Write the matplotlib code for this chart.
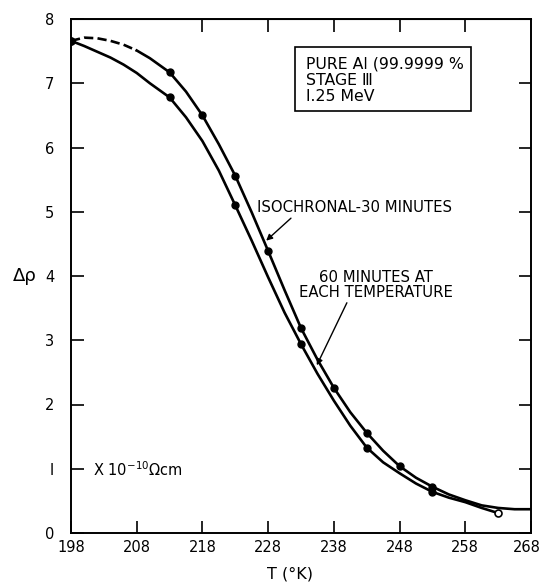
import matplotlib
matplotlib.use("Agg")
import matplotlib.pyplot as plt
from matplotlib.patches import Rectangle
from matplotlib.transforms import ScaledTranslation

# ---- data ----
# Isochronal 30 minutes (upper curve) - measured points
iso_T = [198, 213, 218, 223, 228, 233, 238, 243, 248, 253]
iso_rho = [7.66, 7.17, 6.50, 5.56, 4.39, 3.19, 2.26, 1.56, 1.04, 0.72]
# traced line of upper curve (dashed part, then solid)
iso_dash_T = [198, 200, 202, 204, 206, 208]
iso_dash_rho = [7.66, 7.71, 7.70, 7.66, 7.60, 7.51]
iso_line_T = [208, 210, 213, 215.5, 218, 220.5, 223, 225.5, 228, 230.5, 233, 235.5,
              238, 240.5, 243, 245.5, 248, 250.5, 253, 255.5, 258, 260.5, 263, 265.5, 268]
iso_line_rho = [7.51, 7.39, 7.17, 6.87, 6.50, 6.05, 5.56, 4.99, 4.39, 3.78, 3.19, 2.70,
                2.26, 1.88, 1.56, 1.28, 1.04, 0.86, 0.72, 0.60, 0.51, 0.43, 0.39, 0.37, 0.37]

# 60 minutes at each temperature (lower curve) - measured points
iso60_T = [198, 213, 223, 233, 243, 253]
iso60_rho = [7.66, 6.78, 5.10, 2.94, 1.33, 0.64]
end_T = [263]
end_rho = [0.31]
low_line_T = [198, 200, 202, 204, 206, 208, 210, 213, 215.5, 218, 220.5, 223, 225.5, 228,
              230.5, 233, 235.5, 238, 240.5, 243, 245.5, 248, 250.5, 253, 255.5, 258, 260.5, 263]
low_line_rho = [7.66, 7.58, 7.49, 7.40, 7.29, 7.16, 7.00, 6.78, 6.47, 6.10, 5.64, 5.10, 4.55,
                3.98, 3.43, 2.94, 2.48, 2.06, 1.67, 1.33, 1.10, 0.93, 0.77, 0.64, 0.55, 0.48, 0.39, 0.31]

x_ticks = [198, 208, 218, 228, 238, 248, 258, 268]
top_ticks = [218, 228, 238, 248, 258]
y_ticks = [0, 1, 2, 3, 4, 5, 6, 7, 8]
y_tick_labels = ["0", "I", "2", "3", "4", "5", "6", "7", "8"]

# ---- figure ----
fig = plt.figure(figsize=(5.41, 5.82), dpi=100)
ax = fig.add_axes([71/541, 49/582, 460/541, 514/582])
ax.set_xlim(198, 268)
ax.set_ylim(0, 8)

lw = 1.9
ax.plot(iso_dash_T, iso_dash_rho, color="black", lw=lw, ls=(0, (3.5, 1.6)))
ax.plot(iso_line_T, iso_line_rho, color="black", lw=lw, solid_joinstyle="round")
ax.plot(low_line_T, low_line_rho, color="black", lw=lw, solid_joinstyle="round")
ax.plot(iso_T, iso_rho, ls="none", marker="o", ms=5, color="black")
ax.plot(iso60_T, iso60_rho, ls="none", marker="o", ms=5, color="black")
ax.plot(end_T, end_rho, ls="none", marker="o", ms=5, mfc="white", mec="black", mew=1.2)

for s in ax.spines.values():
    s.set_linewidth(1.4)

ax.set_xticks(x_ticks)
ax.set_xticklabels([str(t) for t in x_ticks])
ax.set_yticks(y_ticks)
ax.set_yticklabels(y_tick_labels)
ax.tick_params(direction="in", length=9, width=1.2, labelsize=10.5, right=True, pad=5)
ax.tick_params(axis="y", pad=12)
last = ax.get_xticklabels()[-1]
last.set_transform(last.get_transform() + ScaledTranslation(-4/100, 0, fig.dpi_scale_trans))

top = ax.secondary_xaxis("top")
top.set_xticks(top_ticks)
top.tick_params(direction="in", length=9, width=1.2, labeltop=False)

ax.set_xlabel("T (°K)", fontsize=11.5, labelpad=8)
ax.xaxis.set_label_coords(0.476, -0.065)
ax.text(-0.10, 0.50, "Δρ", transform=ax.transAxes, fontsize=13, ha="center", va="center")

ax.text(0.047, 0.124, "X 10$^{-10}$Ωcm", transform=ax.transAxes, fontsize=10.5,
        ha="left", va="center")

ax.add_patch(Rectangle((0.487, 0.821), 0.383, 0.125, transform=ax.transAxes,
                       fc="white", ec="black", lw=1.2, zorder=3))
box_txt = "PURE Al (99.9999 %\nSTAGE Ⅲ\nI.25 MeV"
ax.text(0.511, 0.881, box_txt, transform=ax.transAxes, fontsize=11.3, ha="left",
        va="center", linespacing=1.1, zorder=4)

ax.annotate("ISOCHRONAL-30 MINUTES", xy=(227.7, 4.55), xytext=(226.3, 5.06),
            fontsize=10.7, ha="left", va="center",
            arrowprops=dict(arrowstyle="-|>", color="black", lw=1.0,
                            shrinkA=0, shrinkB=0, mutation_scale=9,
                            relpos=(0.19, 0.0)))
ax.annotate("60 MINUTES AT\nEACH TEMPERATURE", xy=(235.4, 2.61), xytext=(244.4, 3.86),
            fontsize=10.7, ha="center", va="center", linespacing=1.0, multialignment="center",
            arrowprops=dict(arrowstyle="-|>", color="black", lw=1.0,
                            shrinkA=0, shrinkB=0, mutation_scale=9,
                            relpos=(0.32, 0.0)))

fig.savefig("out.png", dpi=100)
